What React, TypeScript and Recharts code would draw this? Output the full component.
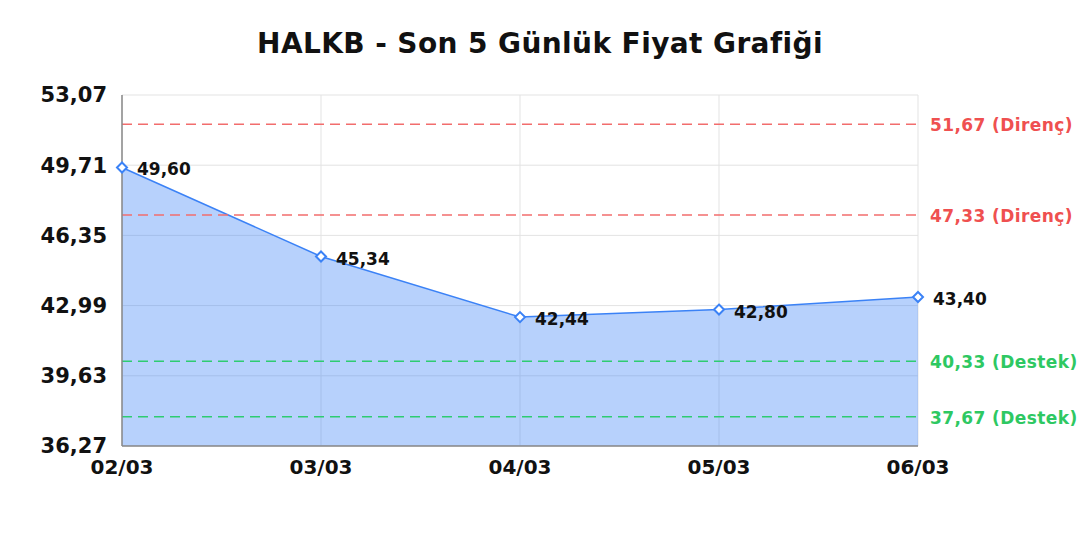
import React from "react";
import {
  ComposedChart,
  Area,
  XAxis,
  YAxis,
  CartesianGrid,
  ReferenceLine,
  LabelList,
} from "recharts";

const dates = ["02/03", "03/03", "04/03", "05/03", "06/03"];
const prices = [49.6, 45.34, 42.44, 42.8, 43.4];
const yTicks = [36.27, 39.63, 42.99, 46.35, 49.71, 53.07];
const resistance = [51.67, 47.33];
const support = [40.33, 37.67];

const data = dates.map((d, i) => ({ date: d, price: prices[i] }));

const font = "'DejaVu Sans', sans-serif";
const fmt = (v: number) => v.toFixed(2).replace(".", ",");

const Diamond = (props: any) => {
  const { cx, cy } = props;
  if (cx == null || cy == null) return null;
  const r = 5;
  return (
    <path
      d={`M${cx},${cy - r}L${cx + r},${cy}L${cx},${cy + r}L${cx - r},${cy}Z`}
      fill="#fff"
      stroke="#3b82f6"
      strokeWidth={2}
    />
  );
};

const PointLabel = (props: any) => {
  const { x, y, value } = props;
  return (
    <text
      x={x + 15}
      y={y + 3}
      fontFamily={font}
      fontWeight="bold"
      fontSize={17}
      fill="#111"
      dominantBaseline="middle"
    >
      {fmt(value)}
    </text>
  );
};

const RefLabel = (text: string, color: string) => (props: any) => {
  const { viewBox } = props;
  return (
    <text
      x={viewBox.x + viewBox.width + 12}
      y={viewBox.y + 2}
      fontFamily={font}
      fontWeight="bold"
      fontSize={17}
      letterSpacing={0.4}
      fill={color}
      dominantBaseline="middle"
    >
      {text}
    </text>
  );
};

export default function App() {
  return (
    <div style={{ position: "absolute", left: 0, top: 0, width: 1080, height: 540, background: "#fff" }}>
      <div
        style={{
          position: "absolute",
          top: 27,
          left: 0,
          width: 1080,
          textAlign: "center",
          fontFamily: font,
          fontWeight: "bold",
          fontSize: 28,
          letterSpacing: 0.4,
          lineHeight: "34px",
          color: "#111",
        }}
      >
        HALKB - Son 5 Günlük Fiyat Grafiği
      </div>
      <ComposedChart
        width={1080}
        height={540}
        data={data}
        margin={{ top: 95, right: 162, bottom: 64, left: 0 }}
      >
        <CartesianGrid stroke="#e3e3e3" strokeWidth={1} />
        <XAxis
          dataKey="date"
          height={30}
          axisLine={{ stroke: "#888", strokeWidth: 1.5 }}
          tickLine={false}
          tick={{ fontFamily: font, fontWeight: "bold", fontSize: 20, fill: "#111" }}
          tickMargin={8}
          interval={0}
        />
        <YAxis
          width={122}
          domain={[36.27, 53.07]}
          ticks={yTicks}
          tickFormatter={fmt}
          axisLine={{ stroke: "#888", strokeWidth: 1.5 }}
          tickLine={false}
          tickMargin={9}
          tick={{ fontFamily: font, fontWeight: "bold", fontSize: 21, fill: "#111" }}
          allowDataOverflow
        />
        <Area
          type="linear"
          dataKey="price"
          stroke="#3b82f6"
          strokeWidth={1.5}
          fill="#3b82f6"
          fillOpacity={0.37}
          dot={<Diamond />}
          activeDot={false}
          isAnimationActive={false}
        >
          <LabelList dataKey="price" content={<PointLabel />} />
        </Area>
        {resistance.map((v) => (
          <ReferenceLine
            key={`r${v}`}
            y={v}
            stroke="#f26d6d"
            strokeDasharray="10 6"
            strokeWidth={1.5}
            label={RefLabel(`${fmt(v)} (Direnç)`, "#ef5050")}
          />
        ))}
        {support.map((v) => (
          <ReferenceLine
            key={`s${v}`}
            y={v}
            stroke="#2ecc71"
            strokeDasharray="10 6"
            strokeWidth={1.5}
            label={RefLabel(`${fmt(v)} (Destek)`, "#2ec862")}
          />
        ))}
      </ComposedChart>
    </div>
  );
}
